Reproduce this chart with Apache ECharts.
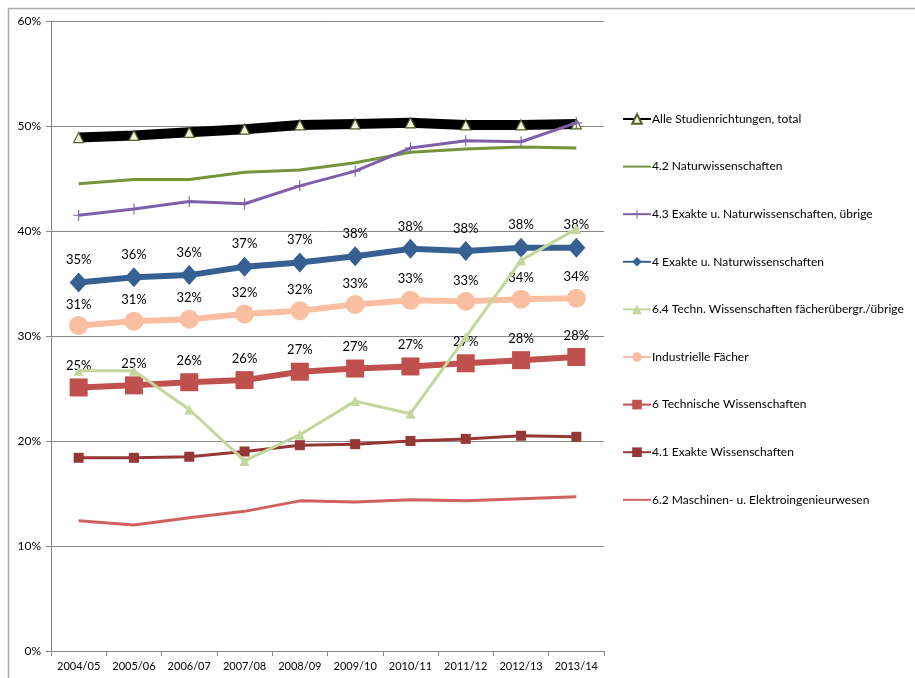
<!DOCTYPE html>
<html>
<head>
<meta charset="utf-8">
<script src="https://cdn.jsdelivr.net/npm/echarts@6/dist/echarts.min.js"></script>
<style>
html,body{margin:0;padding:0;background:#fff;}
#chart{width:915px;height:678px;}
</style>
</head>
<body>
<div id="chart"></div>
<script>
var categories = ['2004/05','2005/06','2006/07','2007/08','2008/09','2009/10','2010/11','2011/12','2012/13','2013/14'];
var seriesNames = [
  'Alle Studienrichtungen, total',
  '4.2 Naturwissenschaften',
  '4.3 Exakte u. Naturwissenschaften, übrige',
  '4 Exakte u. Naturwissenschaften',
  '6.4 Techn. Wissenschaften fächerübergr./übrige',
  'Industrielle Fächer',
  '6 Technische Wissenschaften',
  '4.1 Exakte Wissenschaften',
  '6.2 Maschinen- u. Elektroingenieurwesen'
];
var total      = [48.9, 49.1, 49.4, 49.7, 50.1, 50.2, 50.3, 50.1, 50.1, 50.2];
var natur42    = [44.5, 44.9, 44.9, 45.6, 45.8, 46.5, 47.5, 47.8, 48.0, 47.9];
var exakt43    = [41.5, 42.1, 42.8, 42.6, 44.3, 45.7, 47.9, 48.6, 48.5, 50.3];
var exakt4     = [35.1, 35.6, 35.8, 36.6, 37.0, 37.6, 38.3, 38.1, 38.4, 38.4];
var techn64    = [26.7, 26.7, 23.0, 18.1, 20.6, 23.8, 22.6, 29.9, 37.2, 40.2];
var industrie  = [31.0, 31.4, 31.6, 32.1, 32.4, 33.0, 33.4, 33.3, 33.5, 33.6];
var techn6     = [25.1, 25.3, 25.6, 25.8, 26.6, 26.9, 27.1, 27.4, 27.7, 28.0];
var exakt41    = [18.4, 18.4, 18.5, 19.0, 19.6, 19.7, 20.0, 20.2, 20.5, 20.4];
var masch62    = [12.4, 12.0, 12.7, 13.3, 14.3, 14.2, 14.4, 14.3, 14.5, 14.7];
var yTicks = [0, 10, 20, 30, 40, 50, 60];

var FONT = 'Lato, "Liberation Sans", sans-serif';
var plus = 'path://M-1,-10 L1,-10 L1,-1 L10,-1 L10,1 L1,1 L1,10 L-1,10 L-1,1 L-10,1 L-10,-1 L-1,-1 Z';
function lbl(dist){
  return {show:true, position:'top', distance:dist, color:'#000', fontFamily:FONT, fontSize:13,
    formatter:function(p){return Math.round(p.value)+'%';}};
}
var chart = echarts.init(document.getElementById('chart'), null, {renderer:'canvas'});
chart.setOption({
  animation:false,
  backgroundColor:'#fff',
  textStyle:{fontFamily:FONT},
  graphic:[{type:'rect', left:6, top:6, shape:{width:930, height:700}, style:{fill:'none', stroke:'#aaa', lineWidth:1.5}, silent:true}],
  grid:{left:51, right:311, top:21, bottom:27},
  legend:{
    orient:'vertical', left:617, top:108, itemWidth:28, itemHeight:12, itemGap:35.6,
    textStyle:{fontFamily:FONT, fontSize:12, color:'#000', padding:[0,0,0,-4]},
    data:seriesNames
  },
  xAxis:{
    type:'category', data:categories, boundaryGap:true,
    axisLine:{lineStyle:{color:'#888'}},
    axisTick:{show:true, length:5, lineStyle:{color:'#888'}},
    axisLabel:{color:'#000', fontSize:11, fontFamily:FONT, margin:10, interval:0}
  },
  yAxis:{
    type:'value', min:yTicks[0], max:yTicks[yTicks.length-1], interval:10,
    axisLine:{show:true, lineStyle:{color:'#888'}},
    axisTick:{show:true, length:5, lineStyle:{color:'#888'}},
    splitLine:{lineStyle:{color:'#888'}},
    axisLabel:{color:'#000', fontSize:12, fontFamily:FONT, margin:10, formatter:'{value}%'}
  },
  series:[
    {name:seriesNames[0], type:'line', data:total, z:2, lineStyle:{color:'#000', width:10}, itemStyle:{color:'#F5F3DC', borderColor:'#4F6228', borderWidth:1.2}, symbol:'triangle', symbolSize:10, showAllSymbol:true},
    {name:seriesNames[1], type:'line', data:natur42, z:3, lineStyle:{color:'#77933C', width:3}, itemStyle:{color:'rgba(0,0,0,0)', borderWidth:0}, symbol:'circle', showSymbol:false},
    {name:seriesNames[2], type:'line', data:exakt43, z:4, lineStyle:{color:'#7F60A8', width:3}, itemStyle:{color:'#7F60A8'}, symbol:plus, symbolSize:11},
    {name:seriesNames[3], type:'line', data:exakt4, z:5, lineStyle:{color:'#376092', width:6}, itemStyle:{color:'#376092'}, symbol:'diamond', symbolSize:[18,20], label:lbl(6)},
    {name:seriesNames[4], type:'line', data:techn64, z:9, lineStyle:{color:'#C3D69B', width:3}, itemStyle:{color:'#C3D69B'}, symbol:'triangle', symbolSize:10},
    {name:seriesNames[5], type:'line', data:industrie, z:6, lineStyle:{color:'#F9BFA0', width:6}, itemStyle:{color:'#F9BFA0'}, symbol:'circle', symbolSize:19, label:lbl(5)},
    {name:seriesNames[6], type:'line', data:techn6, z:7, lineStyle:{color:'#C0504D', width:6}, itemStyle:{color:'#C0504D'}, symbol:'rect', symbolSize:18, label:lbl(6)},
    {name:seriesNames[7], type:'line', data:exakt41, z:8, lineStyle:{color:'#953735', width:3}, itemStyle:{color:'#953735'}, symbol:'rect', symbolSize:10},
    {name:seriesNames[8], type:'line', data:masch62, z:8, lineStyle:{color:'#D0605E', width:3}, itemStyle:{color:'rgba(0,0,0,0)', borderWidth:0}, symbol:'circle', showSymbol:false}
  ]
});
</script>
</body>
</html>
